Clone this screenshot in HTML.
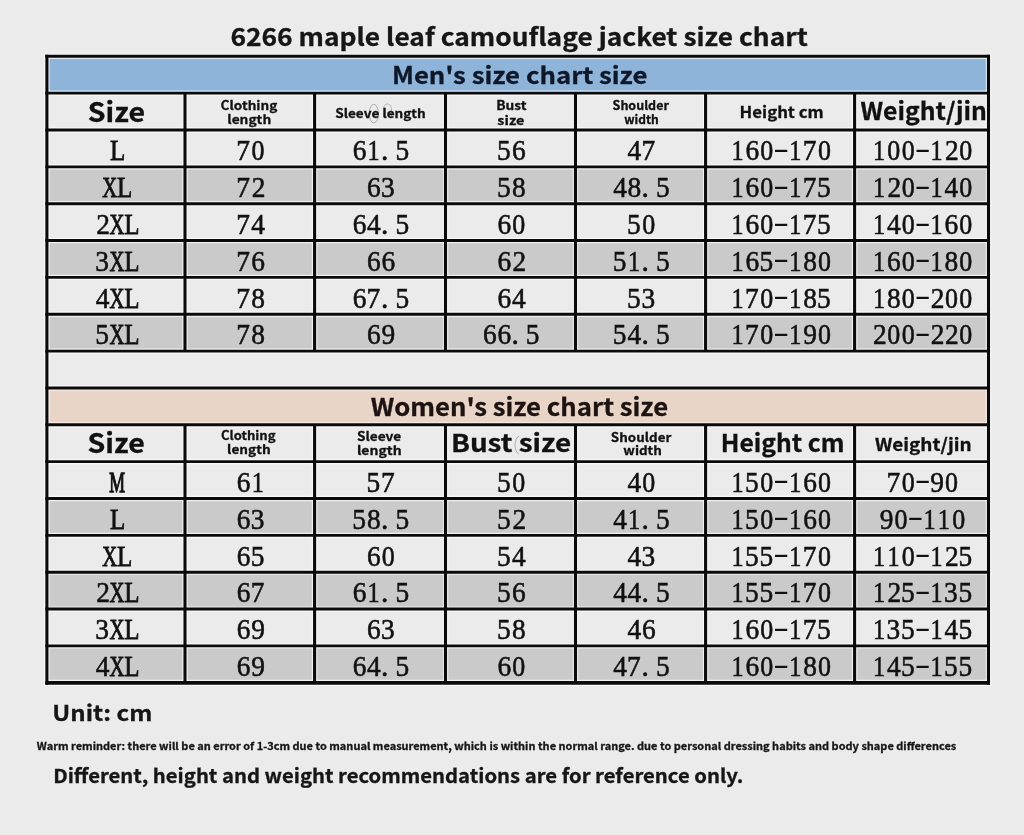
<!DOCTYPE html>
<html><head><meta charset="utf-8"><title>6266 maple leaf camouflage jacket size chart</title><style>html,body{margin:0;padding:0;background:#ebebeb;width:1024px;height:835px;overflow:hidden}</style></head><body>
<svg width="1024" height="835" viewBox="0 0 1024 835" style="display:block;will-change:transform">
<rect width="1024" height="835" fill="#ebebeb"/>
<rect x="46.90" y="56.30" width="941.60" height="36.85" fill="#8fb4da"/>
<rect x="46.90" y="387.95" width="941.60" height="36.85" fill="#e9d5c7"/>
<rect x="46.90" y="166.85" width="941.60" height="36.85" fill="#cacaca"/>
<rect x="46.90" y="498.50" width="941.60" height="36.85" fill="#cacaca"/>
<rect x="46.90" y="240.55" width="941.60" height="36.85" fill="#cacaca"/>
<rect x="46.90" y="572.20" width="941.60" height="36.85" fill="#cacaca"/>
<rect x="46.90" y="314.25" width="941.60" height="36.85" fill="#cacaca"/>
<rect x="46.90" y="645.90" width="941.60" height="36.85" fill="#cacaca"/>
<g stroke="#ffffff" stroke-opacity="0.7" fill="none">
<line x1="44.15" y1="56.30" x2="991.25" y2="56.30" stroke-width="5.30"/>
<line x1="44.15" y1="93.15" x2="991.25" y2="93.15" stroke-width="5.30"/>
<line x1="44.15" y1="130.00" x2="991.25" y2="130.00" stroke-width="5.30"/>
<line x1="44.15" y1="166.85" x2="991.25" y2="166.85" stroke-width="5.30"/>
<line x1="44.15" y1="203.70" x2="991.25" y2="203.70" stroke-width="5.30"/>
<line x1="44.15" y1="240.55" x2="991.25" y2="240.55" stroke-width="5.30"/>
<line x1="44.15" y1="277.40" x2="991.25" y2="277.40" stroke-width="5.30"/>
<line x1="44.15" y1="314.25" x2="991.25" y2="314.25" stroke-width="5.30"/>
<line x1="44.15" y1="351.10" x2="991.25" y2="351.10" stroke-width="5.30"/>
<line x1="44.15" y1="387.95" x2="991.25" y2="387.95" stroke-width="5.30"/>
<line x1="44.15" y1="424.80" x2="991.25" y2="424.80" stroke-width="5.30"/>
<line x1="44.15" y1="461.65" x2="991.25" y2="461.65" stroke-width="5.30"/>
<line x1="44.15" y1="498.50" x2="991.25" y2="498.50" stroke-width="5.30"/>
<line x1="44.15" y1="535.35" x2="991.25" y2="535.35" stroke-width="5.30"/>
<line x1="44.15" y1="572.20" x2="991.25" y2="572.20" stroke-width="5.30"/>
<line x1="44.15" y1="609.05" x2="991.25" y2="609.05" stroke-width="5.30"/>
<line x1="44.15" y1="645.90" x2="991.25" y2="645.90" stroke-width="5.30"/>
<line x1="44.15" y1="682.90" x2="991.25" y2="682.90" stroke-width="6.10"/>
<line x1="46.90" y1="53.65" x2="46.90" y2="685.95" stroke-width="5.50"/>
<line x1="988.50" y1="53.65" x2="988.50" y2="685.95" stroke-width="5.50"/>
<line x1="185.00" y1="93.15" x2="185.00" y2="351.10" stroke-width="5.50"/>
<line x1="185.00" y1="424.80" x2="185.00" y2="682.75" stroke-width="5.50"/>
<line x1="314.60" y1="93.15" x2="314.60" y2="351.10" stroke-width="5.50"/>
<line x1="314.60" y1="424.80" x2="314.60" y2="682.75" stroke-width="5.50"/>
<line x1="445.50" y1="93.15" x2="445.50" y2="351.10" stroke-width="5.50"/>
<line x1="445.50" y1="424.80" x2="445.50" y2="682.75" stroke-width="5.50"/>
<line x1="575.50" y1="93.15" x2="575.50" y2="351.10" stroke-width="5.50"/>
<line x1="575.50" y1="424.80" x2="575.50" y2="682.75" stroke-width="5.50"/>
<line x1="705.60" y1="93.15" x2="705.60" y2="351.10" stroke-width="5.50"/>
<line x1="705.60" y1="424.80" x2="705.60" y2="682.75" stroke-width="5.50"/>
<line x1="854.60" y1="93.15" x2="854.60" y2="351.10" stroke-width="5.50"/>
<line x1="854.60" y1="424.80" x2="854.60" y2="682.75" stroke-width="5.50"/>
</g>
<g stroke="#0a0a0a" fill="none">
<line x1="45.35" y1="56.30" x2="990.05" y2="56.30" stroke-width="2.9"/>
<line x1="45.35" y1="93.15" x2="990.05" y2="93.15" stroke-width="2.9"/>
<line x1="45.35" y1="130.00" x2="990.05" y2="130.00" stroke-width="2.9"/>
<line x1="45.35" y1="166.85" x2="990.05" y2="166.85" stroke-width="2.9"/>
<line x1="45.35" y1="203.70" x2="990.05" y2="203.70" stroke-width="2.9"/>
<line x1="45.35" y1="240.55" x2="990.05" y2="240.55" stroke-width="2.9"/>
<line x1="45.35" y1="277.40" x2="990.05" y2="277.40" stroke-width="2.9"/>
<line x1="45.35" y1="314.25" x2="990.05" y2="314.25" stroke-width="2.9"/>
<line x1="45.35" y1="351.10" x2="990.05" y2="351.10" stroke-width="2.9"/>
<line x1="45.35" y1="387.95" x2="990.05" y2="387.95" stroke-width="2.9"/>
<line x1="45.35" y1="424.80" x2="990.05" y2="424.80" stroke-width="2.9"/>
<line x1="45.35" y1="461.65" x2="990.05" y2="461.65" stroke-width="2.9"/>
<line x1="45.35" y1="498.50" x2="990.05" y2="498.50" stroke-width="2.9"/>
<line x1="45.35" y1="535.35" x2="990.05" y2="535.35" stroke-width="2.9"/>
<line x1="45.35" y1="572.20" x2="990.05" y2="572.20" stroke-width="2.9"/>
<line x1="45.35" y1="609.05" x2="990.05" y2="609.05" stroke-width="2.9"/>
<line x1="45.35" y1="645.90" x2="990.05" y2="645.90" stroke-width="2.9"/>
<line x1="45.35" y1="682.90" x2="990.05" y2="682.90" stroke-width="3.7"/>
<line x1="46.90" y1="54.85" x2="46.90" y2="684.75" stroke-width="3.1"/>
<line x1="988.50" y1="54.85" x2="988.50" y2="684.75" stroke-width="3.1"/>
<line x1="185.00" y1="93.15" x2="185.00" y2="351.10" stroke-width="3.1"/>
<line x1="185.00" y1="424.80" x2="185.00" y2="682.75" stroke-width="3.1"/>
<line x1="314.60" y1="93.15" x2="314.60" y2="351.10" stroke-width="3.1"/>
<line x1="314.60" y1="424.80" x2="314.60" y2="682.75" stroke-width="3.1"/>
<line x1="445.50" y1="93.15" x2="445.50" y2="351.10" stroke-width="3.1"/>
<line x1="445.50" y1="424.80" x2="445.50" y2="682.75" stroke-width="3.1"/>
<line x1="575.50" y1="93.15" x2="575.50" y2="351.10" stroke-width="3.1"/>
<line x1="575.50" y1="424.80" x2="575.50" y2="682.75" stroke-width="3.1"/>
<line x1="705.60" y1="93.15" x2="705.60" y2="351.10" stroke-width="3.1"/>
<line x1="705.60" y1="424.80" x2="705.60" y2="682.75" stroke-width="3.1"/>
<line x1="854.60" y1="93.15" x2="854.60" y2="351.10" stroke-width="3.1"/>
<line x1="854.60" y1="424.80" x2="854.60" y2="682.75" stroke-width="3.1"/>
</g>
<g fill="none" stroke="#8a8a8a" stroke-width="0.9" stroke-opacity="0.7">
<ellipse cx="373.8" cy="113.6" rx="4.6" ry="9.3"/>
<path d="M383.6 117 V108.5 A3.9 4.6 0 0 1 391.4 108.5 V117" stroke-opacity="0.6"/>
<path d="M519 436.2 A4.6 9 0 0 0 519 454.0"/>
</g>
<g font-family="Noto Sans CJK SC, sans-serif" font-weight="bold" stroke-width="0.3">
<text transform="translate(230.42 46.00) scale(1.0757 1)" font-size="24.5" fill="#161616" stroke="#161616" vector-effect="non-scaling-stroke" xml:space="preserve">6266 maple leaf camouflage jacket size chart</text>
<text transform="translate(391.92 83.80) scale(1.0913 1)" font-size="23.6" fill="#0f1828" stroke="#0f1828" vector-effect="non-scaling-stroke" xml:space="preserve">Men's size chart size</text>
<text transform="translate(370.63 415.80) scale(1.0707 1)" font-size="24.0" fill="#1d1311" stroke="#1d1311" vector-effect="non-scaling-stroke" xml:space="preserve">Women's size chart size</text>
<text transform="translate(87.69 121.60) scale(1.0569 1)" font-size="27.0" fill="#111" stroke="#111" vector-effect="non-scaling-stroke" xml:space="preserve">Size</text>
<text transform="translate(220.61 109.60) scale(1.0882 1)" font-size="12.5" fill="#111" stroke="#111" vector-effect="non-scaling-stroke" xml:space="preserve">Clothing</text>
<text transform="translate(227.30 124.10) scale(1.1000 1)" font-size="12.5" fill="#111" stroke="#111" vector-effect="non-scaling-stroke" xml:space="preserve">length</text>
<text transform="translate(335.21 117.60) scale(1.0877 1)" font-size="12.5" fill="#111" stroke="#111" vector-effect="non-scaling-stroke" xml:space="preserve">Sleeve length</text>
<text transform="translate(496.20 109.60) scale(1.1000 1)" font-size="12.5" fill="#111" stroke="#111" vector-effect="non-scaling-stroke" xml:space="preserve">Bust</text>
<text transform="translate(497.35 124.50) scale(1.1545 1)" font-size="12.5" fill="#111" stroke="#111" vector-effect="non-scaling-stroke" xml:space="preserve">size</text>
<text transform="translate(612.58 110.30) scale(1.0167 1)" font-size="12.3" fill="#111" stroke="#111" vector-effect="non-scaling-stroke" xml:space="preserve">Shoulder</text>
<text transform="translate(624.20 123.90) scale(0.9771 1)" font-size="12.3" fill="#111" stroke="#111" vector-effect="non-scaling-stroke" xml:space="preserve">width</text>
<text transform="translate(739.60 117.60) scale(1.0960 1)" font-size="15.3" fill="#111" stroke="#111" vector-effect="non-scaling-stroke" xml:space="preserve">Height cm</text>
<text transform="translate(860.47 119.80) scale(1.0308 1)" font-size="24.0" fill="#111" stroke="#111" vector-effect="non-scaling-stroke" xml:space="preserve">Weight/jin</text>
<text transform="translate(87.59 453.30) scale(1.0549 1)" font-size="27.0" fill="#111" stroke="#111" vector-effect="non-scaling-stroke" xml:space="preserve">Size</text>
<text transform="translate(221.05 440.40) scale(1.0451 1)" font-size="12.5" fill="#111" stroke="#111" vector-effect="non-scaling-stroke" xml:space="preserve">Clothing</text>
<text transform="translate(227.11 454.30) scale(1.0895 1)" font-size="12.5" fill="#111" stroke="#111" vector-effect="non-scaling-stroke" xml:space="preserve">length</text>
<text transform="translate(356.91 440.90) scale(1.0923 1)" font-size="12.5" fill="#111" stroke="#111" vector-effect="non-scaling-stroke" xml:space="preserve">Sleeve</text>
<text transform="translate(356.88 454.60) scale(1.1211 1)" font-size="12.5" fill="#111" stroke="#111" vector-effect="non-scaling-stroke" xml:space="preserve">length</text>
<text transform="translate(450.91 452.40) scale(1.1471 1)" font-size="24.3" fill="#111" stroke="#111" vector-effect="non-scaling-stroke" xml:space="preserve">Bust size</text>
<text transform="translate(610.83 441.80) scale(1.0661 1)" font-size="12.6" fill="#111" stroke="#111" vector-effect="non-scaling-stroke" xml:space="preserve">Shoulder</text>
<text transform="translate(623.30 455.40) scale(1.0657 1)" font-size="12.6" fill="#111" stroke="#111" vector-effect="non-scaling-stroke" xml:space="preserve">width</text>
<text transform="translate(720.87 452.20) scale(1.0153 1)" font-size="24.3" fill="#111" stroke="#111" vector-effect="non-scaling-stroke" xml:space="preserve">Height cm</text>
<text transform="translate(875.00 450.80) scale(1.0943 1)" font-size="17.3" fill="#111" stroke="#111" vector-effect="non-scaling-stroke" xml:space="preserve">Weight/jin</text>
<text transform="translate(52.37 720.80) scale(1.1174 1)" font-size="21.5" fill="#161616" stroke="#161616" vector-effect="non-scaling-stroke" xml:space="preserve">Unit: cm</text>
<text transform="translate(36.80 749.60) scale(1.0990 1)" font-size="10.0" fill="#161616" stroke="#161616" vector-effect="non-scaling-stroke" xml:space="preserve">Warm reminder: there will be an error of 1-3cm due to manual measurement, which is within the normal range. due to personal dressing habits and body shape differences</text>
<text transform="translate(53.19 782.90) scale(1.0565 1)" font-size="19.2" fill="#161616" stroke="#161616" vector-effect="non-scaling-stroke" xml:space="preserve">Different, height and weight recommendations are for reference only.</text>
</g>
<g font-family="Liberation Serif, serif" font-size="29.5" fill="#111" stroke="#111" stroke-width="0.55">
<text transform="translate(109.93 160.23) scale(0.85 1)" vector-effect="non-scaling-stroke" stroke-width="0.7">L</text>
<text transform="translate(236.36 160.23) scale(0.93 1)" vector-effect="non-scaling-stroke">7</text>
<text transform="translate(251.60 160.23) scale(0.88 1)" vector-effect="non-scaling-stroke">0</text>
<text transform="translate(352.67 160.23) scale(0.93 1)" vector-effect="non-scaling-stroke">6</text>
<text transform="translate(367.49 160.23) scale(0.82 1)" vector-effect="non-scaling-stroke">1</text>
<text transform="translate(381.05 160.23) scale(1.0 1)" vector-effect="non-scaling-stroke">.</text>
<text transform="translate(395.41 160.23) scale(0.93 1)" vector-effect="non-scaling-stroke">5</text>
<text transform="translate(497.06 160.23) scale(0.93 1)" vector-effect="non-scaling-stroke">5</text>
<text transform="translate(511.92 160.23) scale(0.93 1)" vector-effect="non-scaling-stroke">6</text>
<text transform="translate(627.58 160.23) scale(0.93 1)" vector-effect="non-scaling-stroke">4</text>
<text transform="translate(641.51 160.23) scale(0.93 1)" vector-effect="non-scaling-stroke">7</text>
<text transform="translate(731.54 160.23) scale(0.82 1)" vector-effect="non-scaling-stroke">1</text>
<text transform="translate(745.53 160.23) scale(0.93 1)" vector-effect="non-scaling-stroke">6</text>
<text transform="translate(760.30 160.23) scale(0.88 1)" vector-effect="non-scaling-stroke">0</text>
<text transform="translate(773.30 157.83) scale(1.6 1)" vector-effect="non-scaling-stroke" stroke="none">-</text>
<text transform="translate(789.14 160.23) scale(0.82 1)" vector-effect="non-scaling-stroke">1</text>
<text transform="translate(802.66 160.23) scale(0.93 1)" vector-effect="non-scaling-stroke">7</text>
<text transform="translate(817.90 160.23) scale(0.88 1)" vector-effect="non-scaling-stroke">0</text>
<text transform="translate(872.99 160.23) scale(0.82 1)" vector-effect="non-scaling-stroke">1</text>
<text transform="translate(887.35 160.23) scale(0.88 1)" vector-effect="non-scaling-stroke">0</text>
<text transform="translate(901.75 160.23) scale(0.88 1)" vector-effect="non-scaling-stroke">0</text>
<text transform="translate(914.75 157.83) scale(1.6 1)" vector-effect="non-scaling-stroke" stroke="none">-</text>
<text transform="translate(930.59 160.23) scale(0.82 1)" vector-effect="non-scaling-stroke">1</text>
<text transform="translate(945.04 160.23) scale(0.93 1)" vector-effect="non-scaling-stroke">2</text>
<text transform="translate(959.35 160.23) scale(0.88 1)" vector-effect="non-scaling-stroke">0</text>
<text transform="translate(102.25 197.08) scale(0.7 1)" vector-effect="non-scaling-stroke" stroke-width="0.85">X</text>
<text transform="translate(117.12 197.08) scale(0.85 1)" vector-effect="non-scaling-stroke" stroke-width="0.7">L</text>
<text transform="translate(236.36 197.08) scale(0.93 1)" vector-effect="non-scaling-stroke">7</text>
<text transform="translate(251.69 197.08) scale(0.93 1)" vector-effect="non-scaling-stroke">2</text>
<text transform="translate(367.07 197.08) scale(0.93 1)" vector-effect="non-scaling-stroke">6</text>
<text transform="translate(381.01 197.08) scale(0.93 1)" vector-effect="non-scaling-stroke">3</text>
<text transform="translate(497.06 197.08) scale(0.93 1)" vector-effect="non-scaling-stroke">5</text>
<text transform="translate(511.92 197.08) scale(0.93 1)" vector-effect="non-scaling-stroke">8</text>
<text transform="translate(613.18 197.08) scale(0.93 1)" vector-effect="non-scaling-stroke">4</text>
<text transform="translate(627.58 197.08) scale(0.93 1)" vector-effect="non-scaling-stroke">8</text>
<text transform="translate(641.55 197.08) scale(1.0 1)" vector-effect="non-scaling-stroke">.</text>
<text transform="translate(655.91 197.08) scale(0.93 1)" vector-effect="non-scaling-stroke">5</text>
<text transform="translate(731.54 197.08) scale(0.82 1)" vector-effect="non-scaling-stroke">1</text>
<text transform="translate(745.53 197.08) scale(0.93 1)" vector-effect="non-scaling-stroke">6</text>
<text transform="translate(760.30 197.08) scale(0.88 1)" vector-effect="non-scaling-stroke">0</text>
<text transform="translate(773.30 194.68) scale(1.6 1)" vector-effect="non-scaling-stroke" stroke="none">-</text>
<text transform="translate(789.14 197.08) scale(0.82 1)" vector-effect="non-scaling-stroke">1</text>
<text transform="translate(802.66 197.08) scale(0.93 1)" vector-effect="non-scaling-stroke">7</text>
<text transform="translate(817.06 197.08) scale(0.93 1)" vector-effect="non-scaling-stroke">5</text>
<text transform="translate(872.99 197.08) scale(0.82 1)" vector-effect="non-scaling-stroke">1</text>
<text transform="translate(887.44 197.08) scale(0.93 1)" vector-effect="non-scaling-stroke">2</text>
<text transform="translate(901.75 197.08) scale(0.88 1)" vector-effect="non-scaling-stroke">0</text>
<text transform="translate(914.75 194.68) scale(1.6 1)" vector-effect="non-scaling-stroke" stroke="none">-</text>
<text transform="translate(930.59 197.08) scale(0.82 1)" vector-effect="non-scaling-stroke">1</text>
<text transform="translate(944.58 197.08) scale(0.93 1)" vector-effect="non-scaling-stroke">4</text>
<text transform="translate(959.35 197.08) scale(0.88 1)" vector-effect="non-scaling-stroke">0</text>
<text transform="translate(96.24 233.93) scale(0.93 1)" vector-effect="non-scaling-stroke">2</text>
<text transform="translate(109.45 233.93) scale(0.7 1)" vector-effect="non-scaling-stroke" stroke-width="0.85">X</text>
<text transform="translate(124.33 233.93) scale(0.85 1)" vector-effect="non-scaling-stroke" stroke-width="0.7">L</text>
<text transform="translate(236.36 233.93) scale(0.93 1)" vector-effect="non-scaling-stroke">7</text>
<text transform="translate(251.22 233.93) scale(0.93 1)" vector-effect="non-scaling-stroke">4</text>
<text transform="translate(352.67 233.93) scale(0.93 1)" vector-effect="non-scaling-stroke">6</text>
<text transform="translate(367.07 233.93) scale(0.93 1)" vector-effect="non-scaling-stroke">4</text>
<text transform="translate(381.05 233.93) scale(1.0 1)" vector-effect="non-scaling-stroke">.</text>
<text transform="translate(395.41 233.93) scale(0.93 1)" vector-effect="non-scaling-stroke">5</text>
<text transform="translate(497.52 233.93) scale(0.93 1)" vector-effect="non-scaling-stroke">6</text>
<text transform="translate(512.30 233.93) scale(0.88 1)" vector-effect="non-scaling-stroke">0</text>
<text transform="translate(627.11 233.93) scale(0.93 1)" vector-effect="non-scaling-stroke">5</text>
<text transform="translate(642.35 233.93) scale(0.88 1)" vector-effect="non-scaling-stroke">0</text>
<text transform="translate(731.54 233.93) scale(0.82 1)" vector-effect="non-scaling-stroke">1</text>
<text transform="translate(745.53 233.93) scale(0.93 1)" vector-effect="non-scaling-stroke">6</text>
<text transform="translate(760.30 233.93) scale(0.88 1)" vector-effect="non-scaling-stroke">0</text>
<text transform="translate(773.30 231.53) scale(1.6 1)" vector-effect="non-scaling-stroke" stroke="none">-</text>
<text transform="translate(789.14 233.93) scale(0.82 1)" vector-effect="non-scaling-stroke">1</text>
<text transform="translate(802.66 233.93) scale(0.93 1)" vector-effect="non-scaling-stroke">7</text>
<text transform="translate(817.06 233.93) scale(0.93 1)" vector-effect="non-scaling-stroke">5</text>
<text transform="translate(872.99 233.93) scale(0.82 1)" vector-effect="non-scaling-stroke">1</text>
<text transform="translate(886.98 233.93) scale(0.93 1)" vector-effect="non-scaling-stroke">4</text>
<text transform="translate(901.75 233.93) scale(0.88 1)" vector-effect="non-scaling-stroke">0</text>
<text transform="translate(914.75 231.53) scale(1.6 1)" vector-effect="non-scaling-stroke" stroke="none">-</text>
<text transform="translate(930.59 233.93) scale(0.82 1)" vector-effect="non-scaling-stroke">1</text>
<text transform="translate(944.58 233.93) scale(0.93 1)" vector-effect="non-scaling-stroke">6</text>
<text transform="translate(959.35 233.93) scale(0.88 1)" vector-effect="non-scaling-stroke">0</text>
<text transform="translate(95.31 270.78) scale(0.93 1)" vector-effect="non-scaling-stroke">3</text>
<text transform="translate(109.45 270.78) scale(0.7 1)" vector-effect="non-scaling-stroke" stroke-width="0.85">X</text>
<text transform="translate(124.33 270.78) scale(0.85 1)" vector-effect="non-scaling-stroke" stroke-width="0.7">L</text>
<text transform="translate(236.36 270.78) scale(0.93 1)" vector-effect="non-scaling-stroke">7</text>
<text transform="translate(251.22 270.78) scale(0.93 1)" vector-effect="non-scaling-stroke">6</text>
<text transform="translate(367.07 270.78) scale(0.93 1)" vector-effect="non-scaling-stroke">6</text>
<text transform="translate(381.48 270.78) scale(0.93 1)" vector-effect="non-scaling-stroke">6</text>
<text transform="translate(497.52 270.78) scale(0.93 1)" vector-effect="non-scaling-stroke">6</text>
<text transform="translate(512.39 270.78) scale(0.93 1)" vector-effect="non-scaling-stroke">2</text>
<text transform="translate(612.71 270.78) scale(0.93 1)" vector-effect="non-scaling-stroke">5</text>
<text transform="translate(627.99 270.78) scale(0.82 1)" vector-effect="non-scaling-stroke">1</text>
<text transform="translate(641.55 270.78) scale(1.0 1)" vector-effect="non-scaling-stroke">.</text>
<text transform="translate(655.91 270.78) scale(0.93 1)" vector-effect="non-scaling-stroke">5</text>
<text transform="translate(731.54 270.78) scale(0.82 1)" vector-effect="non-scaling-stroke">1</text>
<text transform="translate(745.53 270.78) scale(0.93 1)" vector-effect="non-scaling-stroke">6</text>
<text transform="translate(759.46 270.78) scale(0.93 1)" vector-effect="non-scaling-stroke">5</text>
<text transform="translate(773.30 268.38) scale(1.6 1)" vector-effect="non-scaling-stroke" stroke="none">-</text>
<text transform="translate(789.14 270.78) scale(0.82 1)" vector-effect="non-scaling-stroke">1</text>
<text transform="translate(803.13 270.78) scale(0.93 1)" vector-effect="non-scaling-stroke">8</text>
<text transform="translate(817.90 270.78) scale(0.88 1)" vector-effect="non-scaling-stroke">0</text>
<text transform="translate(872.99 270.78) scale(0.82 1)" vector-effect="non-scaling-stroke">1</text>
<text transform="translate(886.98 270.78) scale(0.93 1)" vector-effect="non-scaling-stroke">6</text>
<text transform="translate(901.75 270.78) scale(0.88 1)" vector-effect="non-scaling-stroke">0</text>
<text transform="translate(914.75 268.38) scale(1.6 1)" vector-effect="non-scaling-stroke" stroke="none">-</text>
<text transform="translate(930.59 270.78) scale(0.82 1)" vector-effect="non-scaling-stroke">1</text>
<text transform="translate(944.58 270.78) scale(0.93 1)" vector-effect="non-scaling-stroke">8</text>
<text transform="translate(959.35 270.78) scale(0.88 1)" vector-effect="non-scaling-stroke">0</text>
<text transform="translate(95.78 307.63) scale(0.93 1)" vector-effect="non-scaling-stroke">4</text>
<text transform="translate(109.45 307.63) scale(0.7 1)" vector-effect="non-scaling-stroke" stroke-width="0.85">X</text>
<text transform="translate(124.33 307.63) scale(0.85 1)" vector-effect="non-scaling-stroke" stroke-width="0.7">L</text>
<text transform="translate(236.36 307.63) scale(0.93 1)" vector-effect="non-scaling-stroke">7</text>
<text transform="translate(251.22 307.63) scale(0.93 1)" vector-effect="non-scaling-stroke">8</text>
<text transform="translate(352.67 307.63) scale(0.93 1)" vector-effect="non-scaling-stroke">6</text>
<text transform="translate(366.61 307.63) scale(0.93 1)" vector-effect="non-scaling-stroke">7</text>
<text transform="translate(381.05 307.63) scale(1.0 1)" vector-effect="non-scaling-stroke">.</text>
<text transform="translate(395.41 307.63) scale(0.93 1)" vector-effect="non-scaling-stroke">5</text>
<text transform="translate(497.52 307.63) scale(0.93 1)" vector-effect="non-scaling-stroke">6</text>
<text transform="translate(511.92 307.63) scale(0.93 1)" vector-effect="non-scaling-stroke">4</text>
<text transform="translate(627.11 307.63) scale(0.93 1)" vector-effect="non-scaling-stroke">5</text>
<text transform="translate(641.51 307.63) scale(0.93 1)" vector-effect="non-scaling-stroke">3</text>
<text transform="translate(731.54 307.63) scale(0.82 1)" vector-effect="non-scaling-stroke">1</text>
<text transform="translate(745.06 307.63) scale(0.93 1)" vector-effect="non-scaling-stroke">7</text>
<text transform="translate(760.30 307.63) scale(0.88 1)" vector-effect="non-scaling-stroke">0</text>
<text transform="translate(773.30 305.23) scale(1.6 1)" vector-effect="non-scaling-stroke" stroke="none">-</text>
<text transform="translate(789.14 307.63) scale(0.82 1)" vector-effect="non-scaling-stroke">1</text>
<text transform="translate(803.13 307.63) scale(0.93 1)" vector-effect="non-scaling-stroke">8</text>
<text transform="translate(817.06 307.63) scale(0.93 1)" vector-effect="non-scaling-stroke">5</text>
<text transform="translate(872.99 307.63) scale(0.82 1)" vector-effect="non-scaling-stroke">1</text>
<text transform="translate(886.98 307.63) scale(0.93 1)" vector-effect="non-scaling-stroke">8</text>
<text transform="translate(901.75 307.63) scale(0.88 1)" vector-effect="non-scaling-stroke">0</text>
<text transform="translate(914.75 305.23) scale(1.6 1)" vector-effect="non-scaling-stroke" stroke="none">-</text>
<text transform="translate(930.64 307.63) scale(0.93 1)" vector-effect="non-scaling-stroke">2</text>
<text transform="translate(944.95 307.63) scale(0.88 1)" vector-effect="non-scaling-stroke">0</text>
<text transform="translate(959.35 307.63) scale(0.88 1)" vector-effect="non-scaling-stroke">0</text>
<text transform="translate(95.31 344.48) scale(0.93 1)" vector-effect="non-scaling-stroke">5</text>
<text transform="translate(109.45 344.48) scale(0.7 1)" vector-effect="non-scaling-stroke" stroke-width="0.85">X</text>
<text transform="translate(124.33 344.48) scale(0.85 1)" vector-effect="non-scaling-stroke" stroke-width="0.7">L</text>
<text transform="translate(236.36 344.48) scale(0.93 1)" vector-effect="non-scaling-stroke">7</text>
<text transform="translate(251.22 344.48) scale(0.93 1)" vector-effect="non-scaling-stroke">8</text>
<text transform="translate(367.07 344.48) scale(0.93 1)" vector-effect="non-scaling-stroke">6</text>
<text transform="translate(381.48 344.48) scale(0.93 1)" vector-effect="non-scaling-stroke">9</text>
<text transform="translate(483.12 344.48) scale(0.93 1)" vector-effect="non-scaling-stroke">6</text>
<text transform="translate(497.52 344.48) scale(0.93 1)" vector-effect="non-scaling-stroke">6</text>
<text transform="translate(511.50 344.48) scale(1.0 1)" vector-effect="non-scaling-stroke">.</text>
<text transform="translate(525.86 344.48) scale(0.93 1)" vector-effect="non-scaling-stroke">5</text>
<text transform="translate(612.71 344.48) scale(0.93 1)" vector-effect="non-scaling-stroke">5</text>
<text transform="translate(627.58 344.48) scale(0.93 1)" vector-effect="non-scaling-stroke">4</text>
<text transform="translate(641.55 344.48) scale(1.0 1)" vector-effect="non-scaling-stroke">.</text>
<text transform="translate(655.91 344.48) scale(0.93 1)" vector-effect="non-scaling-stroke">5</text>
<text transform="translate(731.54 344.48) scale(0.82 1)" vector-effect="non-scaling-stroke">1</text>
<text transform="translate(745.06 344.48) scale(0.93 1)" vector-effect="non-scaling-stroke">7</text>
<text transform="translate(760.30 344.48) scale(0.88 1)" vector-effect="non-scaling-stroke">0</text>
<text transform="translate(773.30 342.08) scale(1.6 1)" vector-effect="non-scaling-stroke" stroke="none">-</text>
<text transform="translate(789.14 344.48) scale(0.82 1)" vector-effect="non-scaling-stroke">1</text>
<text transform="translate(803.13 344.48) scale(0.93 1)" vector-effect="non-scaling-stroke">9</text>
<text transform="translate(817.90 344.48) scale(0.88 1)" vector-effect="non-scaling-stroke">0</text>
<text transform="translate(873.04 344.48) scale(0.93 1)" vector-effect="non-scaling-stroke">2</text>
<text transform="translate(887.35 344.48) scale(0.88 1)" vector-effect="non-scaling-stroke">0</text>
<text transform="translate(901.75 344.48) scale(0.88 1)" vector-effect="non-scaling-stroke">0</text>
<text transform="translate(914.75 342.08) scale(1.6 1)" vector-effect="non-scaling-stroke" stroke="none">-</text>
<text transform="translate(930.64 344.48) scale(0.93 1)" vector-effect="non-scaling-stroke">2</text>
<text transform="translate(945.04 344.48) scale(0.93 1)" vector-effect="non-scaling-stroke">2</text>
<text transform="translate(959.35 344.48) scale(0.88 1)" vector-effect="non-scaling-stroke">0</text>
<text transform="translate(109.35 491.88) scale(0.6 1)" vector-effect="non-scaling-stroke" stroke-width="1.1">M</text>
<text transform="translate(236.82 491.88) scale(0.93 1)" vector-effect="non-scaling-stroke">6</text>
<text transform="translate(251.64 491.88) scale(0.82 1)" vector-effect="non-scaling-stroke">1</text>
<text transform="translate(366.61 491.88) scale(0.93 1)" vector-effect="non-scaling-stroke">5</text>
<text transform="translate(381.01 491.88) scale(0.93 1)" vector-effect="non-scaling-stroke">7</text>
<text transform="translate(497.06 491.88) scale(0.93 1)" vector-effect="non-scaling-stroke">5</text>
<text transform="translate(512.30 491.88) scale(0.88 1)" vector-effect="non-scaling-stroke">0</text>
<text transform="translate(627.58 491.88) scale(0.93 1)" vector-effect="non-scaling-stroke">4</text>
<text transform="translate(642.35 491.88) scale(0.88 1)" vector-effect="non-scaling-stroke">0</text>
<text transform="translate(731.54 491.88) scale(0.82 1)" vector-effect="non-scaling-stroke">1</text>
<text transform="translate(745.06 491.88) scale(0.93 1)" vector-effect="non-scaling-stroke">5</text>
<text transform="translate(760.30 491.88) scale(0.88 1)" vector-effect="non-scaling-stroke">0</text>
<text transform="translate(773.30 489.48) scale(1.6 1)" vector-effect="non-scaling-stroke" stroke="none">-</text>
<text transform="translate(789.14 491.88) scale(0.82 1)" vector-effect="non-scaling-stroke">1</text>
<text transform="translate(803.13 491.88) scale(0.93 1)" vector-effect="non-scaling-stroke">6</text>
<text transform="translate(817.90 491.88) scale(0.88 1)" vector-effect="non-scaling-stroke">0</text>
<text transform="translate(886.51 491.88) scale(0.93 1)" vector-effect="non-scaling-stroke">7</text>
<text transform="translate(901.75 491.88) scale(0.88 1)" vector-effect="non-scaling-stroke">0</text>
<text transform="translate(914.75 489.48) scale(1.6 1)" vector-effect="non-scaling-stroke" stroke="none">-</text>
<text transform="translate(930.17 491.88) scale(0.93 1)" vector-effect="non-scaling-stroke">9</text>
<text transform="translate(944.95 491.88) scale(0.88 1)" vector-effect="non-scaling-stroke">0</text>
<text transform="translate(109.93 528.73) scale(0.85 1)" vector-effect="non-scaling-stroke" stroke-width="0.7">L</text>
<text transform="translate(236.82 528.73) scale(0.93 1)" vector-effect="non-scaling-stroke">6</text>
<text transform="translate(250.76 528.73) scale(0.93 1)" vector-effect="non-scaling-stroke">3</text>
<text transform="translate(352.21 528.73) scale(0.93 1)" vector-effect="non-scaling-stroke">5</text>
<text transform="translate(367.07 528.73) scale(0.93 1)" vector-effect="non-scaling-stroke">8</text>
<text transform="translate(381.05 528.73) scale(1.0 1)" vector-effect="non-scaling-stroke">.</text>
<text transform="translate(395.41 528.73) scale(0.93 1)" vector-effect="non-scaling-stroke">5</text>
<text transform="translate(497.06 528.73) scale(0.93 1)" vector-effect="non-scaling-stroke">5</text>
<text transform="translate(512.39 528.73) scale(0.93 1)" vector-effect="non-scaling-stroke">2</text>
<text transform="translate(613.18 528.73) scale(0.93 1)" vector-effect="non-scaling-stroke">4</text>
<text transform="translate(627.99 528.73) scale(0.82 1)" vector-effect="non-scaling-stroke">1</text>
<text transform="translate(641.55 528.73) scale(1.0 1)" vector-effect="non-scaling-stroke">.</text>
<text transform="translate(655.91 528.73) scale(0.93 1)" vector-effect="non-scaling-stroke">5</text>
<text transform="translate(731.54 528.73) scale(0.82 1)" vector-effect="non-scaling-stroke">1</text>
<text transform="translate(745.06 528.73) scale(0.93 1)" vector-effect="non-scaling-stroke">5</text>
<text transform="translate(760.30 528.73) scale(0.88 1)" vector-effect="non-scaling-stroke">0</text>
<text transform="translate(773.30 526.33) scale(1.6 1)" vector-effect="non-scaling-stroke" stroke="none">-</text>
<text transform="translate(789.14 528.73) scale(0.82 1)" vector-effect="non-scaling-stroke">1</text>
<text transform="translate(803.13 528.73) scale(0.93 1)" vector-effect="non-scaling-stroke">6</text>
<text transform="translate(817.90 528.73) scale(0.88 1)" vector-effect="non-scaling-stroke">0</text>
<text transform="translate(879.77 528.73) scale(0.93 1)" vector-effect="non-scaling-stroke">9</text>
<text transform="translate(894.55 528.73) scale(0.88 1)" vector-effect="non-scaling-stroke">0</text>
<text transform="translate(907.55 526.33) scale(1.6 1)" vector-effect="non-scaling-stroke" stroke="none">-</text>
<text transform="translate(923.39 528.73) scale(0.82 1)" vector-effect="non-scaling-stroke">1</text>
<text transform="translate(937.79 528.73) scale(0.82 1)" vector-effect="non-scaling-stroke">1</text>
<text transform="translate(952.15 528.73) scale(0.88 1)" vector-effect="non-scaling-stroke">0</text>
<text transform="translate(102.25 565.57) scale(0.7 1)" vector-effect="non-scaling-stroke" stroke-width="0.85">X</text>
<text transform="translate(117.12 565.57) scale(0.85 1)" vector-effect="non-scaling-stroke" stroke-width="0.7">L</text>
<text transform="translate(236.82 565.57) scale(0.93 1)" vector-effect="non-scaling-stroke">6</text>
<text transform="translate(250.76 565.57) scale(0.93 1)" vector-effect="non-scaling-stroke">5</text>
<text transform="translate(367.07 565.57) scale(0.93 1)" vector-effect="non-scaling-stroke">6</text>
<text transform="translate(381.85 565.57) scale(0.88 1)" vector-effect="non-scaling-stroke">0</text>
<text transform="translate(497.06 565.57) scale(0.93 1)" vector-effect="non-scaling-stroke">5</text>
<text transform="translate(511.92 565.57) scale(0.93 1)" vector-effect="non-scaling-stroke">4</text>
<text transform="translate(627.58 565.57) scale(0.93 1)" vector-effect="non-scaling-stroke">4</text>
<text transform="translate(641.51 565.57) scale(0.93 1)" vector-effect="non-scaling-stroke">3</text>
<text transform="translate(731.54 565.57) scale(0.82 1)" vector-effect="non-scaling-stroke">1</text>
<text transform="translate(745.06 565.57) scale(0.93 1)" vector-effect="non-scaling-stroke">5</text>
<text transform="translate(759.46 565.57) scale(0.93 1)" vector-effect="non-scaling-stroke">5</text>
<text transform="translate(773.30 563.17) scale(1.6 1)" vector-effect="non-scaling-stroke" stroke="none">-</text>
<text transform="translate(789.14 565.57) scale(0.82 1)" vector-effect="non-scaling-stroke">1</text>
<text transform="translate(802.66 565.57) scale(0.93 1)" vector-effect="non-scaling-stroke">7</text>
<text transform="translate(817.90 565.57) scale(0.88 1)" vector-effect="non-scaling-stroke">0</text>
<text transform="translate(872.99 565.57) scale(0.82 1)" vector-effect="non-scaling-stroke">1</text>
<text transform="translate(887.39 565.57) scale(0.82 1)" vector-effect="non-scaling-stroke">1</text>
<text transform="translate(901.75 565.57) scale(0.88 1)" vector-effect="non-scaling-stroke">0</text>
<text transform="translate(914.75 563.17) scale(1.6 1)" vector-effect="non-scaling-stroke" stroke="none">-</text>
<text transform="translate(930.59 565.57) scale(0.82 1)" vector-effect="non-scaling-stroke">1</text>
<text transform="translate(945.04 565.57) scale(0.93 1)" vector-effect="non-scaling-stroke">2</text>
<text transform="translate(958.51 565.57) scale(0.93 1)" vector-effect="non-scaling-stroke">5</text>
<text transform="translate(96.24 602.42) scale(0.93 1)" vector-effect="non-scaling-stroke">2</text>
<text transform="translate(109.45 602.42) scale(0.7 1)" vector-effect="non-scaling-stroke" stroke-width="0.85">X</text>
<text transform="translate(124.33 602.42) scale(0.85 1)" vector-effect="non-scaling-stroke" stroke-width="0.7">L</text>
<text transform="translate(236.82 602.42) scale(0.93 1)" vector-effect="non-scaling-stroke">6</text>
<text transform="translate(250.76 602.42) scale(0.93 1)" vector-effect="non-scaling-stroke">7</text>
<text transform="translate(352.67 602.42) scale(0.93 1)" vector-effect="non-scaling-stroke">6</text>
<text transform="translate(367.49 602.42) scale(0.82 1)" vector-effect="non-scaling-stroke">1</text>
<text transform="translate(381.05 602.42) scale(1.0 1)" vector-effect="non-scaling-stroke">.</text>
<text transform="translate(395.41 602.42) scale(0.93 1)" vector-effect="non-scaling-stroke">5</text>
<text transform="translate(497.06 602.42) scale(0.93 1)" vector-effect="non-scaling-stroke">5</text>
<text transform="translate(511.92 602.42) scale(0.93 1)" vector-effect="non-scaling-stroke">6</text>
<text transform="translate(613.18 602.42) scale(0.93 1)" vector-effect="non-scaling-stroke">4</text>
<text transform="translate(627.58 602.42) scale(0.93 1)" vector-effect="non-scaling-stroke">4</text>
<text transform="translate(641.55 602.42) scale(1.0 1)" vector-effect="non-scaling-stroke">.</text>
<text transform="translate(655.91 602.42) scale(0.93 1)" vector-effect="non-scaling-stroke">5</text>
<text transform="translate(731.54 602.42) scale(0.82 1)" vector-effect="non-scaling-stroke">1</text>
<text transform="translate(745.06 602.42) scale(0.93 1)" vector-effect="non-scaling-stroke">5</text>
<text transform="translate(759.46 602.42) scale(0.93 1)" vector-effect="non-scaling-stroke">5</text>
<text transform="translate(773.30 600.02) scale(1.6 1)" vector-effect="non-scaling-stroke" stroke="none">-</text>
<text transform="translate(789.14 602.42) scale(0.82 1)" vector-effect="non-scaling-stroke">1</text>
<text transform="translate(802.66 602.42) scale(0.93 1)" vector-effect="non-scaling-stroke">7</text>
<text transform="translate(817.90 602.42) scale(0.88 1)" vector-effect="non-scaling-stroke">0</text>
<text transform="translate(872.99 602.42) scale(0.82 1)" vector-effect="non-scaling-stroke">1</text>
<text transform="translate(887.44 602.42) scale(0.93 1)" vector-effect="non-scaling-stroke">2</text>
<text transform="translate(900.91 602.42) scale(0.93 1)" vector-effect="non-scaling-stroke">5</text>
<text transform="translate(914.75 600.02) scale(1.6 1)" vector-effect="non-scaling-stroke" stroke="none">-</text>
<text transform="translate(930.59 602.42) scale(0.82 1)" vector-effect="non-scaling-stroke">1</text>
<text transform="translate(944.11 602.42) scale(0.93 1)" vector-effect="non-scaling-stroke">3</text>
<text transform="translate(958.51 602.42) scale(0.93 1)" vector-effect="non-scaling-stroke">5</text>
<text transform="translate(95.31 639.27) scale(0.93 1)" vector-effect="non-scaling-stroke">3</text>
<text transform="translate(109.45 639.27) scale(0.7 1)" vector-effect="non-scaling-stroke" stroke-width="0.85">X</text>
<text transform="translate(124.33 639.27) scale(0.85 1)" vector-effect="non-scaling-stroke" stroke-width="0.7">L</text>
<text transform="translate(236.82 639.27) scale(0.93 1)" vector-effect="non-scaling-stroke">6</text>
<text transform="translate(251.22 639.27) scale(0.93 1)" vector-effect="non-scaling-stroke">9</text>
<text transform="translate(367.07 639.27) scale(0.93 1)" vector-effect="non-scaling-stroke">6</text>
<text transform="translate(381.01 639.27) scale(0.93 1)" vector-effect="non-scaling-stroke">3</text>
<text transform="translate(497.06 639.27) scale(0.93 1)" vector-effect="non-scaling-stroke">5</text>
<text transform="translate(511.92 639.27) scale(0.93 1)" vector-effect="non-scaling-stroke">8</text>
<text transform="translate(627.58 639.27) scale(0.93 1)" vector-effect="non-scaling-stroke">4</text>
<text transform="translate(641.98 639.27) scale(0.93 1)" vector-effect="non-scaling-stroke">6</text>
<text transform="translate(731.54 639.27) scale(0.82 1)" vector-effect="non-scaling-stroke">1</text>
<text transform="translate(745.53 639.27) scale(0.93 1)" vector-effect="non-scaling-stroke">6</text>
<text transform="translate(760.30 639.27) scale(0.88 1)" vector-effect="non-scaling-stroke">0</text>
<text transform="translate(773.30 636.87) scale(1.6 1)" vector-effect="non-scaling-stroke" stroke="none">-</text>
<text transform="translate(789.14 639.27) scale(0.82 1)" vector-effect="non-scaling-stroke">1</text>
<text transform="translate(802.66 639.27) scale(0.93 1)" vector-effect="non-scaling-stroke">7</text>
<text transform="translate(817.06 639.27) scale(0.93 1)" vector-effect="non-scaling-stroke">5</text>
<text transform="translate(872.99 639.27) scale(0.82 1)" vector-effect="non-scaling-stroke">1</text>
<text transform="translate(886.51 639.27) scale(0.93 1)" vector-effect="non-scaling-stroke">3</text>
<text transform="translate(900.91 639.27) scale(0.93 1)" vector-effect="non-scaling-stroke">5</text>
<text transform="translate(914.75 636.87) scale(1.6 1)" vector-effect="non-scaling-stroke" stroke="none">-</text>
<text transform="translate(930.59 639.27) scale(0.82 1)" vector-effect="non-scaling-stroke">1</text>
<text transform="translate(944.58 639.27) scale(0.93 1)" vector-effect="non-scaling-stroke">4</text>
<text transform="translate(958.51 639.27) scale(0.93 1)" vector-effect="non-scaling-stroke">5</text>
<text transform="translate(95.78 676.12) scale(0.93 1)" vector-effect="non-scaling-stroke">4</text>
<text transform="translate(109.45 676.12) scale(0.7 1)" vector-effect="non-scaling-stroke" stroke-width="0.85">X</text>
<text transform="translate(124.33 676.12) scale(0.85 1)" vector-effect="non-scaling-stroke" stroke-width="0.7">L</text>
<text transform="translate(236.82 676.12) scale(0.93 1)" vector-effect="non-scaling-stroke">6</text>
<text transform="translate(251.22 676.12) scale(0.93 1)" vector-effect="non-scaling-stroke">9</text>
<text transform="translate(352.67 676.12) scale(0.93 1)" vector-effect="non-scaling-stroke">6</text>
<text transform="translate(367.07 676.12) scale(0.93 1)" vector-effect="non-scaling-stroke">4</text>
<text transform="translate(381.05 676.12) scale(1.0 1)" vector-effect="non-scaling-stroke">.</text>
<text transform="translate(395.41 676.12) scale(0.93 1)" vector-effect="non-scaling-stroke">5</text>
<text transform="translate(497.52 676.12) scale(0.93 1)" vector-effect="non-scaling-stroke">6</text>
<text transform="translate(512.30 676.12) scale(0.88 1)" vector-effect="non-scaling-stroke">0</text>
<text transform="translate(613.18 676.12) scale(0.93 1)" vector-effect="non-scaling-stroke">4</text>
<text transform="translate(627.11 676.12) scale(0.93 1)" vector-effect="non-scaling-stroke">7</text>
<text transform="translate(641.55 676.12) scale(1.0 1)" vector-effect="non-scaling-stroke">.</text>
<text transform="translate(655.91 676.12) scale(0.93 1)" vector-effect="non-scaling-stroke">5</text>
<text transform="translate(731.54 676.12) scale(0.82 1)" vector-effect="non-scaling-stroke">1</text>
<text transform="translate(745.53 676.12) scale(0.93 1)" vector-effect="non-scaling-stroke">6</text>
<text transform="translate(760.30 676.12) scale(0.88 1)" vector-effect="non-scaling-stroke">0</text>
<text transform="translate(773.30 673.73) scale(1.6 1)" vector-effect="non-scaling-stroke" stroke="none">-</text>
<text transform="translate(789.14 676.12) scale(0.82 1)" vector-effect="non-scaling-stroke">1</text>
<text transform="translate(803.13 676.12) scale(0.93 1)" vector-effect="non-scaling-stroke">8</text>
<text transform="translate(817.90 676.12) scale(0.88 1)" vector-effect="non-scaling-stroke">0</text>
<text transform="translate(872.99 676.12) scale(0.82 1)" vector-effect="non-scaling-stroke">1</text>
<text transform="translate(886.98 676.12) scale(0.93 1)" vector-effect="non-scaling-stroke">4</text>
<text transform="translate(900.91 676.12) scale(0.93 1)" vector-effect="non-scaling-stroke">5</text>
<text transform="translate(914.75 673.73) scale(1.6 1)" vector-effect="non-scaling-stroke" stroke="none">-</text>
<text transform="translate(930.59 676.12) scale(0.82 1)" vector-effect="non-scaling-stroke">1</text>
<text transform="translate(944.11 676.12) scale(0.93 1)" vector-effect="non-scaling-stroke">5</text>
<text transform="translate(958.51 676.12) scale(0.93 1)" vector-effect="non-scaling-stroke">5</text>
</g>
</svg>
</body></html>
